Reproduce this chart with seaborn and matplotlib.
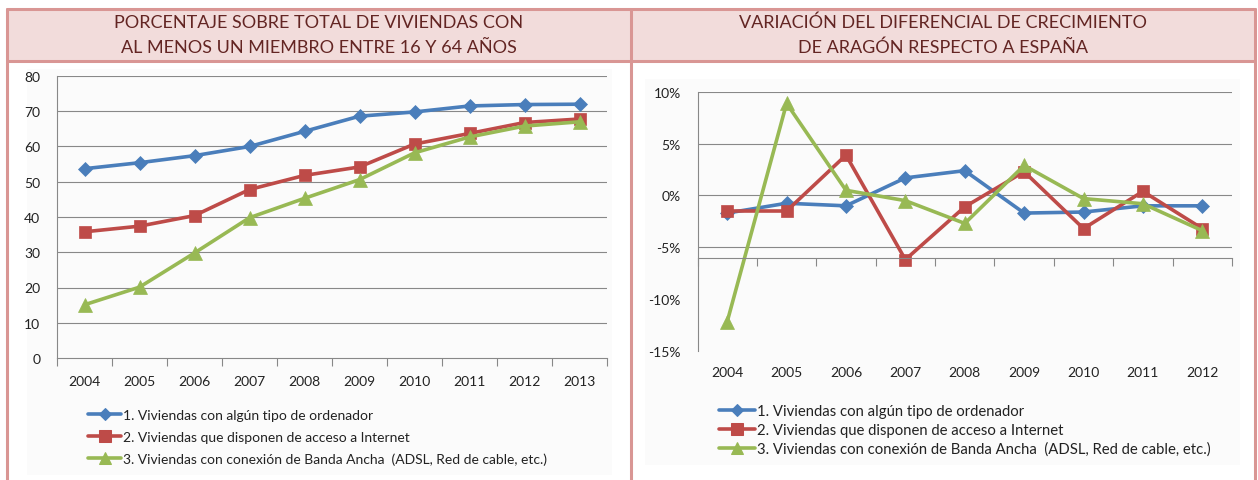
import matplotlib
matplotlib.use("Agg")
import matplotlib.pyplot as plt
import matplotlib.patches as mpatches
from matplotlib.lines import Line2D
from matplotlib.ticker import FixedLocator
import pandas as pd
import seaborn as sns

# Datos del grafico izquierdo (porcentaje de viviendas)
years_left = ["2004", "2005", "2006", "2007", "2008", "2009", "2010", "2011", "2012", "2013"]
ordenador = [53.7, 55.4, 57.4, 60.0, 64.3, 68.6, 69.8, 71.5, 71.9, 72.0]
internet = [35.8, 37.4, 40.4, 47.8, 51.8, 54.2, 60.7, 63.7, 66.8, 67.8]
banda_ancha = [15.1, 20.1, 29.8, 39.8, 45.3, 50.6, 58.2, 62.7, 65.8, 67.0]

# Datos del grafico derecho (diferencial Aragon - Espana, %)
years_right = ["2004", "2005", "2006", "2007", "2008", "2009", "2010", "2011", "2012"]
dif_ordenador = [-1.7, -0.75, -1.0, 1.7, 2.4, -1.7, -1.6, -1.0, -1.0]
dif_internet = [-1.5, -1.5, 3.9, -6.2, -1.1, 2.3, -3.2, 0.4, -3.2]
dif_banda = [-12.2, 8.9, 0.5, -0.5, -2.7, 2.9, -0.3, -0.8, -3.4]

series = ["1. Viviendas con algún tipo de ordenador",
          "2. Viviendas que disponen de acceso a Internet",
          "3. Viviendas con conexión de Banda Ancha  (ADSL, Red de cable, etc.)"]
colores = ["#4a7ebb", "#be4b48", "#98b954"]
marcadores = ["D", "s", "^"]
tam_marcador = [7.5, 8.5, 9.5]
tam_leyenda = [6, 8, 8.5]

titulo_izq = ["PORCENTAJE SOBRE TOTAL DE VIVIENDAS CON", "AL MENOS UN MIEMBRO ENTRE 16 Y 64 AÑOS"]
titulo_der = ["VARIACIÓN DEL DIFERENCIAL DE CRECIMIENTO", "DE ARAGÓN RESPECTO A ESPAÑA"]

W, H = 1258, 481
GRIS = "#888888"
BORDE = "#d99694"

sns.set_theme(style="white")
plt.rcParams["font.family"] = ["Lato", "DejaVu Sans"]


def fx(px):
    return px / W


def fy(py):
    return 1 - py / H


def tabla(years, valores):
    filas = []
    for nombre, vals in zip(series, valores):
        for y, v in zip(years, vals):
            filas.append({"year": y, "valor": v, "serie": nombre})
    return pd.DataFrame(filas)


def dibujar(ax, df, years):
    sns.lineplot(data=df, x="year", y="valor", hue="serie", style="serie",
                 hue_order=series, style_order=series,
                 palette=dict(zip(series, colores)),
                 markers=dict(zip(series, marcadores)),
                 dashes=False, linewidth=2.6, ax=ax, sort=False)
    for ln, ms, c in zip(ax.lines[:3], tam_marcador, colores):
        ln.set_markersize(ms)
        ln.set_markeredgecolor(c)
        ln.set_markeredgewidth(0.5)
    ax.set_xlim(-0.5, len(years) - 0.5)
    ax.xaxis.set_minor_locator(FixedLocator([i - 0.5 for i in range(len(years) + 1)]))
    ax.set_xlabel("")
    ax.set_ylabel("")
    ax.set_facecolor("none")
    for s in ["top", "right"]:
        ax.spines[s].set_visible(False)
    ax.spines["left"].set_color(GRIS)
    ax.spines["bottom"].set_color(GRIS)
    ax.spines["left"].set_linewidth(0.8)
    ax.spines["bottom"].set_linewidth(0.8)
    ax.tick_params(axis="y", length=0, labelsize=10, labelcolor="#222222")
    ax.tick_params(axis="x", which="minor", direction="out", length=6, width=0.8, color=GRIS, bottom=True)
    ax.tick_params(axis="x", which="major", length=0, labelsize=10, labelcolor="#222222")


def leyenda(ax, x, y, fs, spacing):
    handles, labels = ax.get_legend_handles_labels()
    pares = [(h, l) for h, l in zip(handles, labels) if l in series]
    leg = ax.legend([p[0] for p in pares], [p[1] for p in pares],
                    loc="upper left", bbox_to_anchor=(fx(x), fy(y)),
                    bbox_transform=ax.figure.transFigure, frameon=False,
                    fontsize=fs, borderpad=0, borderaxespad=0,
                    handlelength=2.4, handletextpad=0.15, labelspacing=spacing)
    for ln, ms, c in zip(leg.get_lines(), tam_leyenda, colores):
        ln.set_markersize(ms)
        ln.set_markeredgecolor(c)
        ln.set_linewidth(2.6)
    for t in leg.get_texts():
        t.set_color("#222222")


fig = plt.figure(figsize=(W / 100, H / 100), dpi=100)
fig.patch.set_facecolor("white")

# fondo de las areas de grafico
fig.add_artist(mpatches.Rectangle((fx(27), fy(476)), fx(612 - 27), (476 - 70) / H,
                                  transform=fig.transFigure, facecolor="#fbfbfb", edgecolor="none", zorder=0))
fig.add_artist(mpatches.Rectangle((fx(645), fy(466)), fx(1240 - 645), (466 - 80) / H,
                                  transform=fig.transFigure, facecolor="#fbfbfb", edgecolor="none", zorder=0))

# cabecera rosa y bordes
fig.add_artist(mpatches.Rectangle((fx(7), fy(62)), fx(1255 - 7), (62 - 10) / H,
                                  transform=fig.transFigure, facecolor="#f2dcdb", edgecolor="none", zorder=1))
for (x0, y0, x1, y1) in [(7, 10, 1255, 10), (7, 62, 1255, 62), (7, 10, 7, 481),
                         (631, 10, 631, 481), (1255, 10, 1255, 481)]:
    fig.add_artist(Line2D([fx(x0), fx(x1)], [fy(y0), fy(y1)], transform=fig.transFigure,
                          color=BORDE, linewidth=2.2, zorder=2))

for linea, yy in zip(titulo_izq, [23, 48]):
    fig.text(fx(319), fy(yy), linea, ha="center", va="center", fontsize=13, color="#632523")
for linea, yy in zip(titulo_der, [23, 48]):
    fig.text(fx(943), fy(yy), linea, ha="center", va="center", fontsize=13, color="#632523")

# ---- grafico izquierdo ----
ax1 = fig.add_axes([fx(57), fy(359), fx(607 - 57), (359 - 77) / H])
df1 = tabla(years_left, [ordenador, internet, banda_ancha])
dibujar(ax1, df1, years_left)
ax1.set_ylim(0, 80)
ax1.set_yticks(range(0, 81, 10))
for v in range(10, 81, 10):
    ax1.axhline(v, color=GRIS, linewidth=0.8, zorder=0.5)
ax1.tick_params(axis="y", pad=12)
ax1.tick_params(axis="x", which="major", pad=12)
leyenda(ax1, 88, 410, 10, 0.7)

# ---- grafico derecho ----
ax2 = fig.add_axes([fx(697.5), fy(351.7), fx(1232 - 697.5), (351.7 - 93) / H])
df2 = tabla(years_right, [dif_ordenador, dif_internet, dif_banda])
dibujar(ax2, df2, years_right)
ax2.set_ylim(-15, 10)
ax2.set_yticks(range(-15, 11, 5))
ax2.set_yticklabels([f"{v}%" for v in range(-15, 11, 5)])
for v in [10, 5, 0, -5]:
    ax2.axhline(v, color=GRIS, linewidth=0.8, zorder=0.5)
ax2.spines["bottom"].set_position(("data", -6))
ax2.tick_params(axis="y", pad=12)
ax2.tick_params(axis="x", which="major", pad=78)
leyenda(ax2, 719, 405, 10.7, 0.33)

fig.savefig("out.png", dpi=100, facecolor="white")
